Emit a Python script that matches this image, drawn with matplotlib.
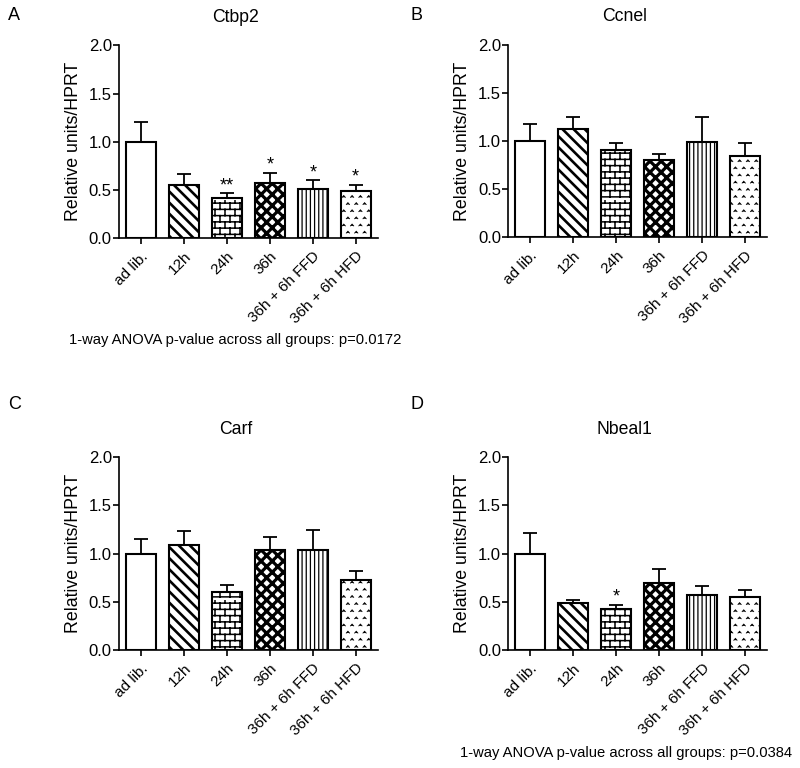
import warnings
import matplotlib
matplotlib.use("Agg")
import matplotlib.pyplot as plt
import matplotlib.hatch as mhatch
from matplotlib.path import Path

warnings.filterwarnings('ignore')
plt.rcParams['font.family'] = ['Liberation Sans', 'DejaVu Sans']
plt.rcParams['hatch.linewidth'] = 1.5


# extra hatch styles: 'b' = brick wall, '^' = little carets
class BrickHatch(mhatch.HatchPatternBase):
    rows, cols = 16, 10

    def __init__(self, hatch, density):
        self.on = 'b' in hatch
        self.num_vertices = (self.rows * 2 + self.rows * self.cols * 2) if self.on else 0

    def set_vertices_and_codes(self, vertices, codes):
        k = 0
        for i in range(self.rows):
            y = (i + 0.5) / self.rows
            vertices[k] = (0, y)
            vertices[k + 1] = (1, y)
            codes[k], codes[k + 1] = Path.MOVETO, Path.LINETO
            k += 2
            for j in range(self.cols):
                x = (j + 0.5 * (i % 2)) / self.cols
                vertices[k] = (x, y)
                vertices[k + 1] = (x, y + 1.0 / self.rows)
                codes[k], codes[k + 1] = Path.MOVETO, Path.LINETO
                k += 2


class CaretHatch(mhatch.HatchPatternBase):
    rows, cols = 14, 12

    def __init__(self, hatch, density):
        self.on = '^' in hatch
        self.num_vertices = self.rows * self.cols * 3 if self.on else 0

    def set_vertices_and_codes(self, vertices, codes):
        k = 0
        w, h = 0.016, 0.018
        for i in range(self.rows):
            y = (i + 0.5) / self.rows
            for j in range(self.cols):
                x = (j + 0.25 + 0.5 * (i % 2)) / self.cols
                vertices[k] = (x - w, y - h / 2)
                vertices[k + 1] = (x, y + h / 2)
                vertices[k + 2] = (x + w, y - h / 2)
                codes[k], codes[k + 1], codes[k + 2] = Path.MOVETO, Path.LINETO, Path.LINETO
                k += 3


mhatch._hatch_types.extend([BrickHatch, CaretHatch])

# groups and values
groups = ['ad lib.', '12h', '24h', '36h', '36h + 6h FFD', '36h + 6h HFD']
hatches = ['', '\\\\\\', 'b', 'xxx', '||||', '^']
hatch_lw = [1.0, 1.9, 1.1, 2.3, 0.9, 0.6]

ctbp2_mean = [1.0, 0.55, 0.42, 0.57, 0.51, 0.49]
ctbp2_err = [0.20, 0.115, 0.045, 0.105, 0.09, 0.065]
ctbp2_stars = ['', '', '**', '*', '*', '*']

ccnel_mean = [1.0, 1.12, 0.91, 0.80, 0.99, 0.845]
ccnel_err = [0.18, 0.13, 0.07, 0.06, 0.26, 0.13]
ccnel_stars = ['', '', '', '', '', '']

carf_mean = [1.0, 1.085, 0.607, 1.04, 1.04, 0.73]
carf_err = [0.155, 0.145, 0.063, 0.13, 0.21, 0.095]
carf_stars = ['', '', '', '', '', '']

nbeal1_mean = [1.0, 0.485, 0.425, 0.70, 0.567, 0.55]
nbeal1_err = [0.21, 0.03, 0.045, 0.14, 0.096, 0.07]
nbeal1_stars = ['', '', '*', '', '', '']

fig = plt.figure(figsize=(8, 7.68), dpi=100)


def draw_panel(rect, title, means, errs, stars):
    ax = fig.add_axes(rect)
    x = list(range(len(groups)))
    bars = ax.bar(x, means, width=0.7, color='white', edgecolor='black',
                  linewidth=1.5, zorder=2)
    for b, h, lw in zip(bars, hatches, hatch_lw):
        b.set_hatch(h)
        if hasattr(b, 'set_hatch_linewidth'):
            b.set_hatch_linewidth(lw)
    ax.errorbar(x, means, yerr=[[0] * len(means), errs], fmt='none',
                ecolor='black', elinewidth=1.3, capsize=4.8, capthick=1.3,
                zorder=1)
    for xi, m, e, s in zip(x, means, errs, stars):
        if s:
            ax.text(xi, m + e + 0.08, s, ha='center', va='center', fontsize=13)
    ax.set_xlim(-0.52, 5.52)
    ax.set_ylim(0, 2.0)
    ax.set_yticks([0.0, 0.5, 1.0, 1.5, 2.0])
    ax.set_yticklabels(['0.0', '0.5', '1.0', '1.5', '2.0'])
    ax.set_xticks(x)
    ax.set_xticklabels(groups, rotation=45, ha='right', rotation_mode='anchor')
    ax.tick_params(direction='out', length=4, width=1.2)
    ax.tick_params(axis='y', labelsize=12, pad=1)
    ax.tick_params(axis='x', labelsize=11, pad=4)
    for side in ['top', 'right']:
        ax.spines[side].set_visible(False)
    for side in ['left', 'bottom']:
        ax.spines[side].set_linewidth(1.2)
    ax.set_ylabel('Relative units/HPRT', fontsize=12.8, labelpad=5)
    ax.set_title(title, x=0.45, pad=17, fontsize=12.7)
    return ax


draw_panel([0.1485, 0.690, 0.324, 0.251], 'Ctbp2', ctbp2_mean, ctbp2_err, ctbp2_stars)
draw_panel([0.635, 0.691, 0.324, 0.251], 'Ccnel', ccnel_mean, ccnel_err, ccnel_stars)
draw_panel([0.1485, 0.1536, 0.324, 0.251], 'Carf', carf_mean, carf_err, carf_stars)
draw_panel([0.635, 0.1536, 0.324, 0.251], 'Nbeal1', nbeal1_mean, nbeal1_err, nbeal1_stars)

fig.text(0.010, 0.980, 'A', fontsize=13, va='center')
fig.text(0.513, 0.980, 'B', fontsize=13, va='center')
fig.text(0.010, 0.473, 'C', fontsize=13, va='center')
fig.text(0.513, 0.473, 'D', fontsize=13, va='center')

fig.text(0.294, 0.557, '1-way ANOVA p-value across all groups: p=0.0172',
         ha='center', va='center', fontsize=10.6)
fig.text(0.7825, 0.0195, '1-way ANOVA p-value across all groups: p=0.0384',
         ha='center', va='center', fontsize=10.6)

fig.savefig('out.png', dpi=100)
